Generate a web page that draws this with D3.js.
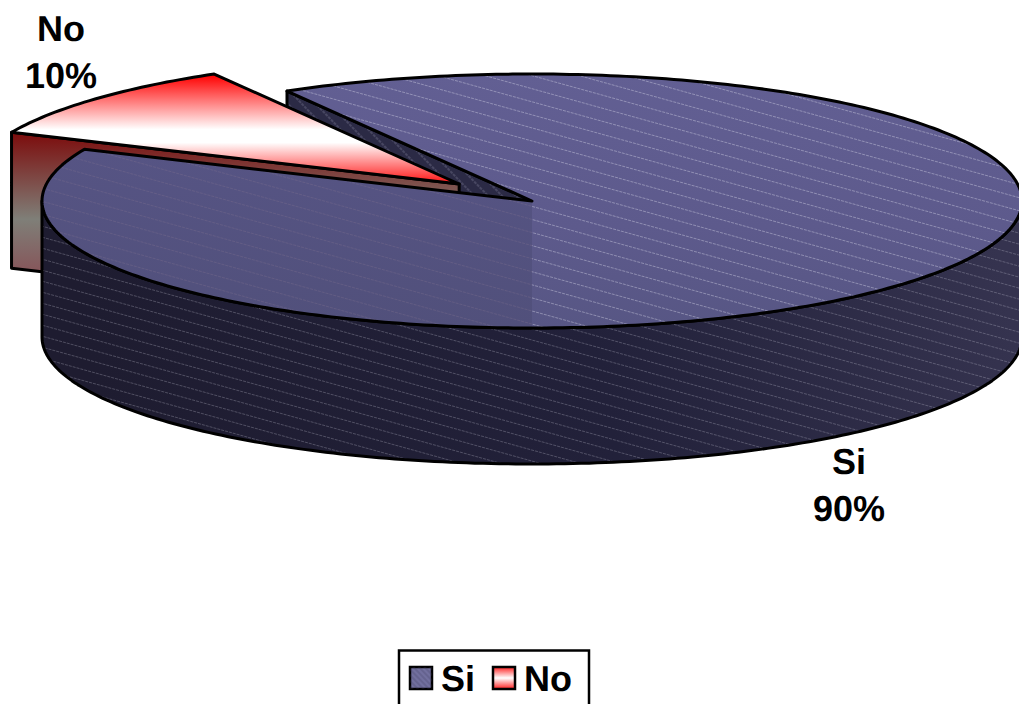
<!DOCTYPE html>
<html><head><meta charset="utf-8">
<script src="https://cdn.jsdelivr.net/npm/d3@7"></script>
<style>html,body{margin:0;padding:0;background:#fff;overflow:hidden}text{font-family:"Liberation Sans",Arial,sans-serif;font-weight:bold;fill:#000;text-rendering:geometricPrecision}</style>
</head><body><svg id="c" width="1019" height="704"></svg>
<script>
const categories = ["Si", "No"];
const values = [90, 10];
const percentLabels = ["90%", "10%"];
const explode = [0, 0.2];

const svg = d3.select("#c");
const cx = 532, cy = 201, rx = 490, ry = 127, depth = 136;
const xS = d3.scaleLinear().domain([-1, 1]).range([cx - rx, cx + rx]);
const yS = d3.scaleLinear().domain([-1, 1]).range([cy - ry, cy + ry]);
const start = -30 * Math.PI / 180;
const arcs = d3.pie().sort(null).value(d => d).startAngle(start).endAngle(start + 2 * Math.PI)(values);

const defs = svg.append("defs");
function grad(id, stops, attrs) {
  const g = defs.append("linearGradient").attr("id", id).attr("gradientUnits", "userSpaceOnUse");
  Object.entries(attrs).forEach(([k, v]) => g.attr(k, v));
  stops.forEach(([o, c]) => g.append("stop").attr("offset", o).attr("stop-color", c));
  return g;
}
grad("noTop", [[0, "#ff0000"], [.5, "#ffffff"], [.62, "#ffffff"], [1, "#ff1010"]], {x1: 0, x2: 0, y1: 75, y2: 184});
grad("noWall", [[0, "#7c0c0c"], [.62, "#7f7f78"], [1, "#86565a"]], {x1: 0, x2: 0, y1: 133, y2: 272});
grad("siTopR", [[0, "#625f93"], [.6, "#5d5a8c"], [1, "#575684"]], {x1: 0, x2: 0, y1: 74, y2: 328});
grad("siTopL", [[0, "#565484"], [1, "#51507b"]], {x1: 0, x2: 0, y1: 150, y2: 328});
grad("siWall", [[0, "#1e1c30"], [.55, "#22213a"], [1, "#35334f"]], {x1: 100, x2: 1000, y1: 430, y2: 260});

function hatch(id, color, op, w, gap, angle, dash) {
  const p = defs.append("pattern").attr("id", id).attr("patternUnits", "userSpaceOnUse")
    .attr("width", 40).attr("height", gap).attr("patternTransform", `rotate(${angle})`);
  p.append("line").attr("x1", 0).attr("x2", 40).attr("y1", gap / 2).attr("y2", gap / 2)
    .attr("stroke", color).attr("stroke-opacity", op).attr("stroke-width", w).attr("stroke-dasharray", dash);
}
hatch("hTop", "#d8d8e8", .45, .9, 12.6, 15.5, "3 1");
hatch("hTopL", "#8a7a90", .3, .9, 12.6, 15.5, "3 1");
hatch("hWall", "#d0d0e0", .34, .8, 10.6, 15.5, "3 1");
hatch("hCut", "#c8c8dc", .45, .8, 10, 46, "3 1");
hatch("hSwatch", "#3c3a5c", .45, 1, 4, 46, "2 0");

const px = (a, r = 1, ox = 0) => xS(Math.sin(a) * r) + ox;
const py = (a, r = 1, oy = 0) => yS(-Math.cos(a) * r) + oy;

function offset(d, k) {
  const m = (d.startAngle + d.endAngle) / 2;
  return [(xS(Math.sin(m)) - cx) * k, (yS(-Math.cos(m)) - cy) * k];
}
function arcPts(a0, a1, ox, oy, dy) {
  const n = Math.max(8, Math.round(Math.abs(a1 - a0) * 60));
  return d3.range(n + 1).map(i => {
    const a = a0 + (a1 - a0) * i / n;
    return [px(a, 1, ox), py(a, 1, oy) + dy];
  });
}
const line = d3.line();
function outline(d) {
  svg.append("path").attr("d", d).attr("fill", "none")
    .attr("stroke", "#000").attr("stroke-width", 3).attr("stroke-linejoin", "round");
}
function poly(pts, fill, over) {
  const d = line(pts) + "Z";
  svg.append("path").attr("d", d).attr("fill", fill);
  if (over) svg.append("path").attr("d", d).attr("fill", `url(#${over})`);
  outline(d);
}

const si = arcs[0], no = arcs[1];
const [nx, ny] = offset(no, explode[1]);
const apexN = [cx + nx, cy + ny];
const nA = [px(no.startAngle, 1, nx), py(no.startAngle, 1, ny)];
const siS = [px(si.startAngle), py(si.startAngle)];
const siE = [px(si.endAngle), py(si.endAngle)];

// Si back cut wall
poly([siS, [cx, cy], [cx, cy + depth], [siS[0], siS[1] + depth]], "#2b2a45", "hCut");
// No cut wall facing the viewer
poly([apexN, nA, [nA[0], nA[1] + depth], [apexN[0], apexN[1] + depth]], "url(#noWall)");
// No top
poly([apexN, ...arcPts(no.startAngle, no.endAngle, nx, ny, 0)], "url(#noTop)");
// Si outer wall (front half only)
const wallTop = arcPts(Math.PI / 2, 3 * Math.PI / 2, 0, 0, 0);
const wallBot = arcPts(3 * Math.PI / 2, Math.PI / 2, 0, 0, depth);
poly([...wallTop, ...wallBot], "url(#siWall)", "hWall");
// Si top: the darker front-left part meets the lighter rest along the vertical below the centre
const siD = line([[cx, cy], ...arcPts(si.startAngle, si.endAngle, 0, 0, 0)]) + "Z";
const slope = (siE[1] - cy) / (siE[0] - cx);
svg.append("clipPath").attr("id", "clipFront").append("path")
  .attr("d", line([[0, cy - slope * cx], [cx, cy], [cx, 704], [0, 704]]) + "Z");
svg.append("path").attr("d", siD).attr("fill", "url(#siTopR)");
svg.append("path").attr("d", siD).attr("fill", "url(#hTop)");
svg.append("path").attr("d", siD).attr("fill", "url(#siTopL)").attr("clip-path", "url(#clipFront)");
svg.append("path").attr("d", siD).attr("fill", "url(#hTopL)").attr("clip-path", "url(#clipFront)");
outline(siD);

// Data labels
const labelPos = [[849, 474], [61, 41]];
categories.forEach((c, i) => {
  const t = svg.append("text").attr("text-anchor", "middle").attr("font-size", 36);
  t.append("tspan").attr("x", labelPos[i][0]).attr("y", labelPos[i][1]).text(c);
  t.append("tspan").attr("x", labelPos[i][0]).attr("y", labelPos[i][1] + 47).text(percentLabels[i]);
});

// Legend
svg.append("rect").attr("x", 399).attr("y", 650.5).attr("width", 190).attr("height", 70)
  .attr("fill", "#fff").attr("stroke", "#000").attr("stroke-width", 2.5);
const swX = [410, 493], txtX = [441, 524];
defs.append("linearGradient").attr("id", "swNo").attr("x1", 0).attr("x2", 0).attr("y1", 0).attr("y2", 1)
  .selectAll("stop").data([[0, "#ff2020"], [.5, "#ffffff"], [1, "#ff2020"]]).join("stop")
  .attr("offset", d => d[0]).attr("stop-color", d => d[1]);
categories.forEach((c, i) => {
  svg.append("rect").attr("x", swX[i]).attr("y", 667).attr("width", 22).attr("height", 22)
    .attr("fill", i === 0 ? "#716f9e" : "url(#swNo)").attr("stroke", "#000").attr("stroke-width", 2.5);
  if (i === 0) svg.append("rect").attr("x", swX[i]).attr("y", 667).attr("width", 22).attr("height", 22)
    .attr("fill", "url(#hSwatch)");
  svg.append("text").attr("x", txtX[i]).attr("y", 691).attr("font-size", 36).text(c);
});
</script></body></html>
